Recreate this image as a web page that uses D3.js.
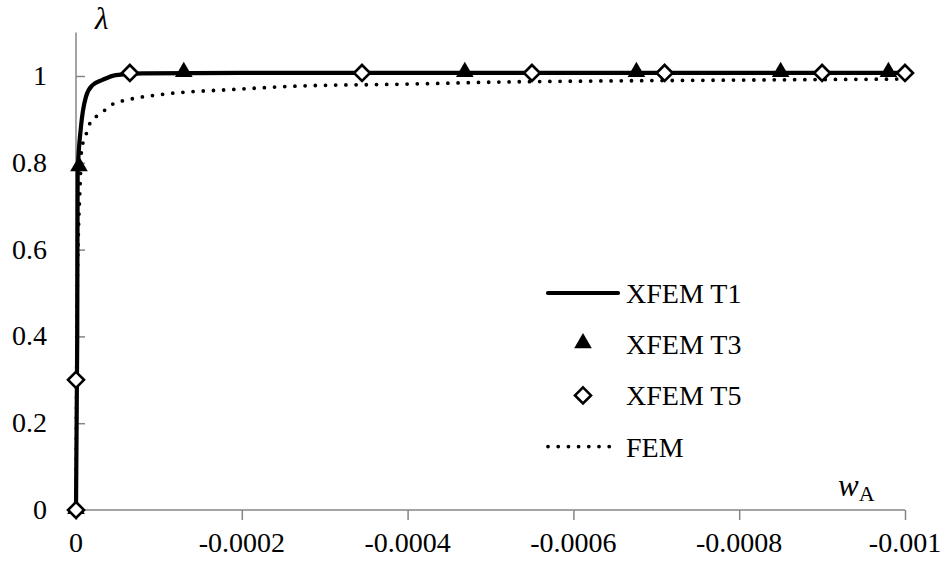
<!DOCTYPE html>
<html>
<head>
<meta charset="utf-8">
<script src="https://cdn.jsdelivr.net/npm/d3@7"></script>
<style>
  body { margin: 0; background: #fff; }
  text { font-family: "Liberation Serif", "Times New Roman", serif; fill: #000; }
</style>
</head>
<body>
<svg id="chart"></svg>
<script>
// data: w_A (negative displacement) and load factor lambda
const t1W = [0, -0.0000015, -0.000002, -0.000006, -0.000012, -0.00002, -0.000032, -0.000048, -0.00008, -0.0002, -0.001];
const t1L = [0, 0.4, 0.776, 0.883, 0.952, 0.979, 0.991, 1.002, 1.006, 1.007, 1.007];

const t3W = [0, -0.0000036, -0.00013, -0.000469, -0.000676, -0.00085, -0.00098];
const t3L = [0, 0.79, 1.007, 1.007, 1.007, 1.007, 1.007];

const t5W = [0, 0, -0.000065, -0.000345, -0.00055, -0.00071, -0.0009, -0.001];
const t5L = [0, 0.3, 1.007, 1.007, 1.007, 1.007, 1.007, 1.007];

const femW = [0, -0.0000015, -0.000005, -0.0000067, -0.0000088, -0.0000128, -0.000017, -0.000026, -0.000036,
  -0.000046, -0.000057, -0.000069, -0.00011, -0.00019, -0.00027, -0.00039, -0.00051, -0.00063, -0.00075, -0.001];
const femL = [0, 0.5, 0.75, 0.829, 0.849, 0.869, 0.892, 0.909, 0.923,
  0.937, 0.943, 0.948, 0.959, 0.969, 0.977, 0.981, 0.986, 0.9885, 0.99, 0.993];

const xTicks = [0, -0.0002, -0.0004, -0.0006, -0.0008, -0.001];
const xTickLabels = ["0", "-0.0002", "-0.0004", "-0.0006", "-0.0008", "-0.001"];
const yTicks = [0, 0.2, 0.4, 0.6, 0.8, 1];
const yTickLabels = ["0", "0.2", "0.4", "0.6", "0.8", "1"];

const legendNames = ["XFEM T1", "XFEM T3", "XFEM T5", "FEM"];

const width = 950, height = 570;
const svg = d3.select('#chart').attr('width', width).attr('height', height);

const x = d3.scaleLinear().domain([0, -0.001]).range([76, 905]);
const y = d3.scaleLinear().domain([0, 1.1]).range([510, 32.6]);

const axisColor = '#868686';

// y axis - ticks point into the plot
const yAxis = svg.append('g')
  .attr('transform', `translate(${x(0)},0)`)
  .call(d3.axisRight(y).tickValues(yTicks).tickSize(9).tickFormat(''));
yAxis.select('.domain').attr('stroke', axisColor).attr('stroke-width', 1.5).attr('d', `M0,${y(0)}V${y(1.1)}`);
yAxis.selectAll('.tick line').attr('stroke', axisColor).attr('stroke-width', 1.5);

svg.append('g').selectAll('text')
  .data(yTicks)
  .enter()
  .append('text')
  .attr('x', 47)
  .attr('y', d => y(d) + 9)
  .attr('text-anchor', 'end')
  .style('font-size', '28px')
  .text((d, i) => yTickLabels[i]);

// x axis - ticks point down
const xAxis = svg.append('g')
  .attr('transform', `translate(0,${y(0)})`)
  .call(d3.axisBottom(x).tickValues(xTicks).tickSize(10).tickFormat(''));
xAxis.select('.domain').attr('stroke', axisColor).attr('stroke-width', 1.5).attr('d', `M${x(0)},0H${x(-0.001)}`);
xAxis.selectAll('.tick line').attr('stroke', axisColor).attr('stroke-width', 1.5);

svg.append('g').selectAll('text')
  .data(xTicks)
  .enter()
  .append('text')
  .attr('x', d => x(d))
  .attr('y', 552)
  .attr('text-anchor', 'middle')
  .style('font-size', '28px')
  .text((d, i) => xTickLabels[i]);

// axis titles
svg.append('text')
  .attr('x', 95).attr('y', 29)
  .style('font-size', '31px').style('font-style', 'italic')
  .text('λ');

const wLabel = svg.append('text')
  .attr('x', 838).attr('y', 496)
  .style('font-size', '31px');
wLabel.append('tspan').style('font-style', 'italic').text('w');
wLabel.append('tspan').attr('dy', 5).style('font-size', '22px').text('A');

// lines
const line = d3.line()
  .x(d => x(d[0]))
  .y(d => y(d[1]))
  .curve(d3.curveMonotoneX);

const femData = femW.map((w, i) => [w, femL[i]]);
const t1Data = t1W.map((w, i) => [w, t1L[i]]);

svg.append('path')
  .datum(femData)
  .attr('d', line)
  .attr('fill', 'none')
  .attr('stroke', '#000')
  .attr('stroke-width', 3.8)
  .attr('stroke-linecap', 'round')
  .attr('stroke-dasharray', '0 10.2');

svg.append('path')
  .datum(t1Data)
  .attr('d', line)
  .attr('fill', 'none')
  .attr('stroke', '#000')
  .attr('stroke-width', 4.2);

// markers
const tri = d3.symbol().type(d3.symbolTriangle).size(135);
const dia = 'M0,-8L8,0L0,8L-8,0Z';

svg.append('g').selectAll('path')
  .data(t3W.map((w, i) => [w, t3L[i]]))
  .enter()
  .append('path')
  .attr('d', tri)
  .attr('transform', d => `translate(${x(d[0])},${y(d[1]) - 1})`)
  .attr('fill', '#000');

svg.append('g').selectAll('path')
  .data(t5W.map((w, i) => [w, t5L[i]]))
  .enter()
  .append('path')
  .attr('d', dia)
  .attr('transform', d => `translate(${x(d[0])},${y(d[1])})`)
  .attr('fill', '#fff')
  .attr('stroke', '#000')
  .attr('stroke-width', 2.6);

// legend
const legend = svg.append('g');
const rowY = i => 293 + i * 51.2;

legend.append('line')
  .attr('x1', 548).attr('x2', 618).attr('y1', rowY(0)).attr('y2', rowY(0))
  .attr('stroke', '#000').attr('stroke-width', 4.2).attr('stroke-linecap', 'round');
legend.append('path')
  .attr('d', tri)
  .attr('transform', `translate(583,${rowY(1) - 1})`);
legend.append('path')
  .attr('d', dia)
  .attr('transform', `translate(583,${rowY(2)})`)
  .attr('fill', '#fff').attr('stroke', '#000').attr('stroke-width', 2.6);
legend.append('line')
  .attr('x1', 548).attr('x2', 618).attr('y1', rowY(3)).attr('y2', rowY(3))
  .attr('stroke', '#000').attr('stroke-width', 3.8)
  .attr('stroke-linecap', 'round').attr('stroke-dasharray', '0 10.2');

legend.selectAll('text')
  .data(legendNames)
  .enter()
  .append('text')
  .attr('x', 626)
  .attr('y', (d, i) => rowY(i) + 10)
  .style('font-size', '28px')
  .text(d => d);
</script>
</body>
</html>
